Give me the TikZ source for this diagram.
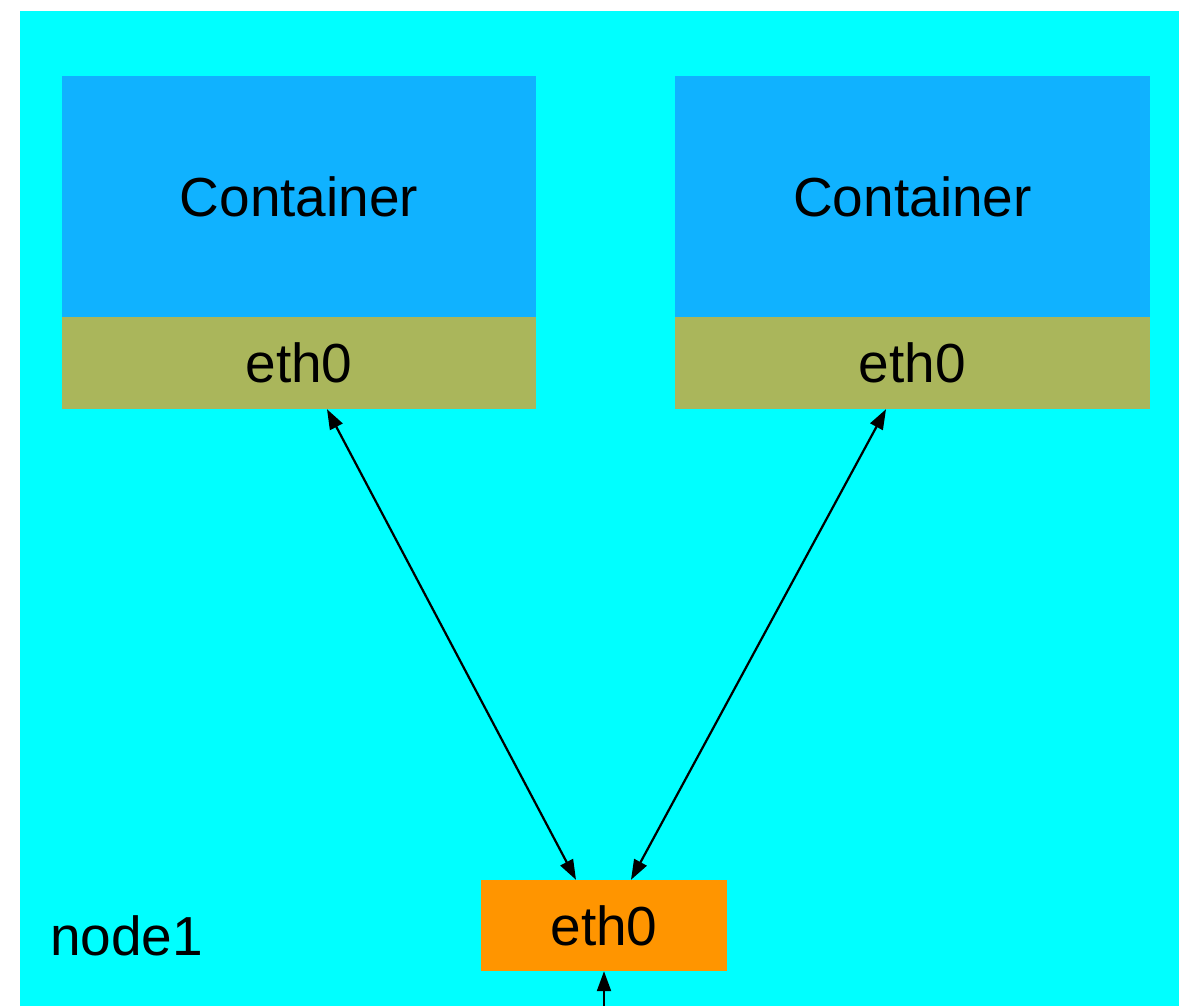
\documentclass[tikz,border=0pt]{standalone}
\usepackage{fontspec}
\setmainfont{Liberation Sans}
\usetikzlibrary{arrows.meta}
\definecolor{hostbg}{HTML}{00FFFF}
\definecolor{ctrblue}{HTML}{10B2FF}
\definecolor{ifolive}{HTML}{AAB65B}
\definecolor{iforange}{HTML}{FF9500}
\tikzset{
  box/.style={draw=none, inner sep=0pt, font=\fontsize{55}{60}\selectfont, text=black},
  tip/.style={Triangle[length=20pt,width=14pt]},
  link/.style={line width=2.2pt, {Triangle[length=20pt,width=14pt]}-{Triangle[length=20pt,width=14pt]}},
  uplink/.style={line width=2.2pt, -{Triangle[length=20pt,width=14pt]}},
}
\begin{document}
\begin{tikzpicture}[x=1pt,y=-1pt]
\useasboundingbox (0,0) rectangle (1179,1006);
\fill[white] (0,0) rectangle (1179,1006);
% host area
\fill[hostbg] (20,11) rectangle (1179,1006);
\node[box, anchor=west] (host) at (50,936) {node1};
% containers
\node[box, fill=ctrblue, minimum width=474pt, minimum height=241pt] (c1) at (299,196.5) {Container};
\node[box, fill=ifolive, minimum width=474pt, minimum height=92pt] (e1) at (299,363) {eth0};
\node[box, fill=ctrblue, minimum width=475pt, minimum height=241pt] (c2) at (912.5,196.5) {Container};
\node[box, fill=ifolive, minimum width=475pt, minimum height=92pt] (e2) at (912.5,363) {eth0};
% host interface
\node[box, fill=iforange, minimum width=246pt, minimum height=91pt] (h) at (604,925.5) {eth0};
\coordinate (out) at (604,1006);
% connectors
\draw[link] (e1.south -| 327,0) -- (h.north -| 576,0);
\draw[link] (e2.south -| 886,0) -- (h.north -| 631,0);
\draw[uplink] (out) -- (h.south);
\end{tikzpicture}
\end{document}
